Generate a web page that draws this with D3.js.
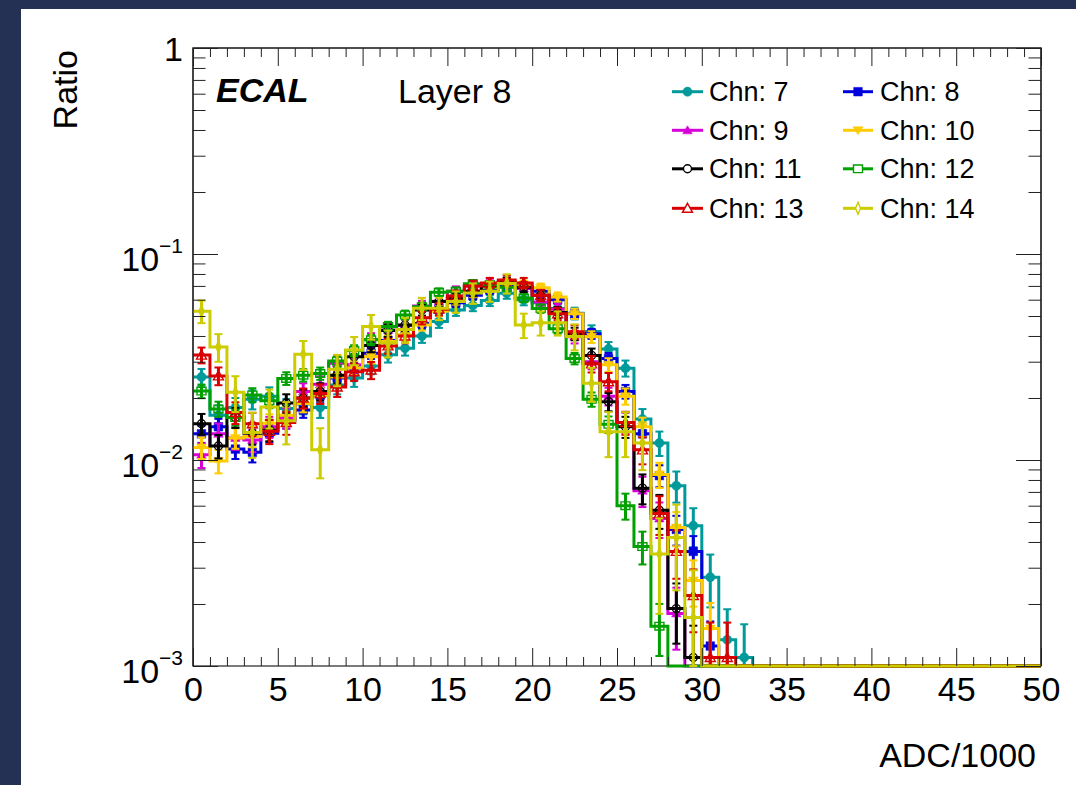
<!DOCTYPE html>
<html><head><meta charset="utf-8">
<script src="https://cdn.jsdelivr.net/npm/d3@7"></script>
<style>
body{margin:0;background:#fff}
svg{display:block}
text{font-family:"Liberation Sans",Arial,Helvetica,sans-serif}
</style>
</head><body>
<svg id="c" width="1076" height="785"></svg>
<script>
// ---------------- data ----------------
const xRange = [0, 50];
const yRange = [1e-3, 1];
const binLowEdges = d3.range(0, 50, 1); // 50 bins of width 1 (ADC/1000)
const xTickLabels = ["0","5","10","15","20","25","30","35","40","45","50"];
const yTickValues = [1e-3, 1e-2, 1e-1, 1];
const yTickBase = ["10","10","10","1"];
const yTickExp = ["\u22123","\u22122","\u22121",""];
const channels = ["Chn: 7","Chn: 8","Chn: 9","Chn: 10","Chn: 11","Chn: 12","Chn: 13","Chn: 14"];

const chn7  = [0.0253,0.0165,0.0180,0.0197,0.0204,0.0178,0.0187,0.0180,0.0231,0.0250,0.0286,0.0324,0.0349,0.0400,0.0470,0.0535,0.0563,0.0595,0.0644,0.0600,0.0580,0.0544,0.0515,0.0420,0.0346,0.0279,0.0158,0.0121,0.0075,0.0048,0.0027,0.00134,0.0011,0,0,0,0,0,0,0,0,0,0,0,0,0,0,0,0,0];
const chn8  = [0.0134,0.0145,0.0113,0.0109,0.0135,0.0156,0.0175,0.0206,0.0250,0.0280,0.0330,0.0380,0.0430,0.0460,0.0540,0.0580,0.0630,0.0670,0.0710,0.0700,0.0660,0.0600,0.0513,0.0410,0.0311,0.0215,0.0134,0.0084,0.0046,0.0036,0.00125,0,0,0,0,0,0,0,0,0,0,0,0,0,0,0,0,0,0,0];
const chn9  = [0.0106,0.0134,0.0128,0.0125,0.0145,0.0160,0.0215,0.0233,0.0295,0.0290,0.0385,0.0428,0.0450,0.0559,0.0590,0.0660,0.0700,0.0720,0.0730,0.0680,0.0585,0.0540,0.0396,0.0300,0.0204,0.0152,0.0071,0.0052,0.0018,0,0,0,0,0,0,0,0,0,0,0,0,0,0,0,0,0,0,0,0,0];
const chn10 = [0.0115,0.0099,0.0128,0.0130,0.0151,0.0165,0.0188,0.0206,0.0253,0.0280,0.0317,0.0376,0.0405,0.0452,0.0528,0.0600,0.0650,0.0690,0.0730,0.0710,0.0685,0.0619,0.0513,0.0396,0.0290,0.0204,0.0145,0.0085,0.0047,0.0026,0.00152,0,0,0,0,0,0,0,0,0,0,0,0,0,0,0,0,0,0,0];
const chn11 = [0.0150,0.0117,0.0161,0.0135,0.0140,0.0189,0.0200,0.0215,0.0258,0.0317,0.0360,0.0425,0.0452,0.0535,0.0588,0.0610,0.0660,0.0700,0.0730,0.0690,0.0630,0.0520,0.0410,0.0322,0.0192,0.0145,0.0073,0.0057,0.0019,0.0011,0,0,0,0,0,0,0,0,0,0,0,0,0,0,0,0,0,0,0,0];
const chn12 = [0.0216,0.0177,0.0161,0.0207,0.0194,0.0249,0.0258,0.0263,0.0302,0.0340,0.0383,0.0445,0.0506,0.0554,0.0652,0.0659,0.0717,0.0710,0.0690,0.0611,0.0544,0.0434,0.0311,0.0197,0.0149,0.0060,0.0038,0.00156,0,0,0,0,0,0,0,0,0,0,0,0,0,0,0,0,0,0,0,0,0,0];
const chn13 = [0.0323,0.0256,0.0170,0.0150,0.0138,0.0152,0.0200,0.0210,0.0226,0.0268,0.0273,0.0358,0.0400,0.0490,0.0540,0.0625,0.0700,0.0723,0.0747,0.0723,0.0630,0.0513,0.0419,0.0293,0.0240,0.0152,0.0112,0.0055,0.0036,0.0022,0.0011,0.0011,0,0,0,0,0,0,0,0,0,0,0,0,0,0,0,0,0,0];
const chn14 = [0.0528,0.0354,0.0213,0.0136,0.0181,0.0155,0.0326,0.0112,0.0276,0.0342,0.0445,0.0370,0.0430,0.0545,0.0545,0.0588,0.0646,0.0660,0.0720,0.0452,0.0464,0.0464,0.0398,0.0236,0.0137,0.0137,0.0121,0.0035,0.0042,0.00172,0,0,0,0,0,0,0,0,0,0,0,0,0,0,0,0,0,0,0,0];
// approximate number of entries per channel (sets the Poisson error bars)
const entries = [4500, 8000, 5000, 6000, 5000, 8000, 4000, 1200];

const seriesValues = [chn7, chn8, chn9, chn10, chn11, chn12, chn13, chn14];

// ---------------- styles ----------------
const colors  = ["#009a9a","#0000dd","#d800d8","#ffcc00","#000000","#00a000","#d80000","#cccc00"];
const markers = ["fullCircle","fullSquare","fullTriUp","fullTriDown","openCircle","openSquare","openTriUp","openDiamond"];

const W = 1076, H = 785;
const F = {l:193, r:1041, t:48, b:666};
const svg = d3.select("#c");

svg.append("rect").attr("width",W).attr("height",H).attr("fill","#243154");
svg.append("rect").attr("x",21).attr("y",9).attr("width",W-21).attr("height",H-9).attr("fill","#ffffff");

const x = d3.scaleLinear().domain(xRange).range([F.l, F.r]);
const y = d3.scaleLog().domain(yRange).range([F.b, F.t]).clamp(true);

// frame (drawn first, histograms may cover it like in ROOT)
svg.append("rect").attr("x",F.l).attr("y",F.t).attr("width",F.r-F.l).attr("height",F.b-F.t)
  .attr("fill","none").attr("stroke","#222").attr("stroke-width",1.2);

svg.append("clipPath").attr("id","frameClip").append("rect")
  .attr("x",F.l).attr("y",F.t-2).attr("width",F.r-F.l+2).attr("height",F.b-F.t+4);

function yOf(v){ return v > 0 ? y(Math.max(v, yRange[0])) : F.b; }

function markerPath(type, cx, cy){
  switch(type){
    case "fullCircle": case "openCircle": {
      const r = type==="fullCircle"?4.6:4;
      return `M${cx-r},${cy}a${r},${r} 0 1,0 ${2*r},0a${r},${r} 0 1,0 ${-2*r},0Z`;
    }
    case "fullSquare": return `M${cx-4.3},${cy-4.3}h8.6v8.6h-8.6Z`;
    case "openSquare": return `M${cx-4.5},${cy-3.8}h9v7.6h-9Z`;
    case "fullTriUp":  return `M${cx},${cy-4.5}L${cx+4.8},${cy+3.5}L${cx-4.8},${cy+3.5}Z`;
    case "fullTriDown":return `M${cx},${cy+4.5}L${cx+5},${cy-3.5}L${cx-5},${cy-3.5}Z`;
    case "openTriUp":  return `M${cx},${cy-5}L${cx+5},${cy+4}L${cx-5},${cy+4}Z`;
    case "openDiamond":return `M${cx},${cy-6}L${cx+2.5},${cy}L${cx},${cy+6}L${cx-2.5},${cy}Z`;
  }
}
function isOpen(t){ return t.startsWith("open"); }

const plot = svg.append("g").attr("clip-path","url(#frameClip)");

seriesValues.forEach((vals, si) => {
  const col = colors[si];
  const g = plot.append("g");
  // histogram outline
  let d = "";
  vals.forEach((v, i) => {
    const x0 = x(binLowEdges[i]), x1 = x(binLowEdges[i] + 1), yy = yOf(v);
    d += (i === 0 ? `M${x0},${yy}` : `V${yy}`) + `H${x1}`;
  });
  g.append("path").attr("d", d).attr("fill","none").attr("stroke",col)
    .attr("stroke-width",3).attr("stroke-linejoin","miter");
  // error bars (Poisson)
  vals.forEach((v, i) => {
    if (!(v > 0)) return;
    const cx = x(binLowEdges[i] + 0.5);
    const err = Math.sqrt(v / entries[si]);
    const yHi = y(v + err);
    const yLo = (v - err) > 0 ? y(v - err) : F.b + 10;
    g.append("line").attr("x1",cx).attr("x2",cx).attr("y1",yHi).attr("y2",yLo)
      .attr("stroke",col).attr("stroke-width",3);
    [yHi, yLo].forEach(yc => {
      g.append("line").attr("x1",cx-4).attr("x2",cx+4).attr("y1",yc).attr("y2",yc)
        .attr("stroke",col).attr("stroke-width",2);
    });
  });
  // markers
  vals.forEach((v, i) => {
    if (!(v > 0)) return;
    const cx = x(binLowEdges[i] + 0.5), cy = yOf(v);
    const t = markers[si];
    g.append("path").attr("d", markerPath(t, cx, cy))
      .attr("fill", isOpen(t) ? "none" : col)
      .attr("stroke", col).attr("stroke-width", isOpen(t) ? 1.4 : 0.5);
  });
});

// ---------------- axes ----------------
const axG = svg.append("g");
const majorX = d3.range(0, 51, 5), minorX = d3.range(0, 51, 1).filter(v => v % 5);

// bottom
const bottomMajor = d3.axisBottom(x).tickValues(majorX).tickSize(-18).tickPadding(11)
  .tickFormat((d,i) => xTickLabels[i]);
const bM = axG.append("g").attr("transform",`translate(0,${F.b})`).call(bottomMajor);
bM.selectAll("text").attr("font-size",34).attr("fill","#000").attr("font-family",'"Liberation Sans",Arial,sans-serif');
axG.append("g").attr("transform",`translate(0,${F.b})`)
  .call(d3.axisBottom(x).tickValues(minorX).tickSize(-9).tickFormat(""));
// top
axG.append("g").attr("transform",`translate(0,${F.t})`)
  .call(d3.axisTop(x).tickValues(majorX).tickSize(-18).tickFormat(""));
axG.append("g").attr("transform",`translate(0,${F.t})`)
  .call(d3.axisTop(x).tickValues(minorX).tickSize(-9).tickFormat(""));

// y ticks (log: decades + 2..9)
const minorY = [];
[1e-3,1e-2,1e-1].forEach(dec => { for (let k=2;k<=9;k++) minorY.push(dec*k); });
axG.append("g").attr("transform",`translate(${F.l},0)`)
  .call(d3.axisLeft(y).tickValues(yTickValues).tickSize(-25).tickFormat(""));
axG.append("g").attr("transform",`translate(${F.l},0)`)
  .call(d3.axisLeft(y).tickValues(minorY).tickSize(-12.5).tickFormat(""));
axG.append("g").attr("transform",`translate(${F.r},0)`)
  .call(d3.axisRight(y).tickValues(yTickValues).tickSize(-25).tickFormat(""));
axG.append("g").attr("transform",`translate(${F.r},0)`)
  .call(d3.axisRight(y).tickValues(minorY).tickSize(-12.5).tickFormat(""));

axG.selectAll(".domain").remove();
axG.selectAll(".tick line").attr("stroke","#222").attr("stroke-width",1);

// left / right / top frame edges redrawn on top (bottom stays under the histograms)
svg.append("path").attr("d",`M${F.l},${F.b}V${F.t}H${F.r}V${F.b}`)
  .attr("fill","none").attr("stroke","#222").attr("stroke-width",1.2);

// y tick labels with superscripts
yTickValues.forEach((v, i) => {
  const ty = y(v);
  const t = svg.append("text").attr("text-anchor","end").attr("x",183).attr("fill","#000");
  if (yTickExp[i] === "") {
    t.attr("y", ty + 13).attr("font-size",34).text(yTickBase[i]);
  } else {
    t.attr("y", ty + 17).attr("font-size",34);
    t.append("tspan").text(yTickBase[i]);
    t.append("tspan").attr("font-size",21).attr("dy",-18).text(yTickExp[i]);
  }
});

// axis titles
svg.append("text").attr("x",1036).attr("y",767).attr("text-anchor","end")
  .attr("font-size",34).attr("fill","#000").text("ADC/1000");
svg.append("text").attr("transform","translate(77,50) rotate(-90)").attr("text-anchor","end")
  .attr("font-size",34).attr("fill","#000").text("Ratio");

// labels in frame
svg.append("text").attr("x",216).attr("y",102).attr("font-size",34).attr("font-weight","bold")
  .attr("font-style","italic").attr("fill","#000").text("ECAL");
svg.append("text").attr("x",398).attr("y",103).attr("font-size",34).attr("fill","#000").text("Layer 8");

// legend
const legRows = [91.7, 130.3, 168.8, 208.3];
const legCols = [{l:672, r:703, t:709}, {l:843, r:873, t:880}];
channels.forEach((name, i) => {
  const row = Math.floor(i/2), c = legCols[i%2], ly = legRows[row];
  const g = svg.append("g");
  g.append("line").attr("x1",c.l).attr("x2",c.r).attr("y1",ly).attr("y2",ly)
    .attr("stroke",colors[i]).attr("stroke-width",3);
  const t = markers[i];
  g.append("path").attr("d", markerPath(t, (c.l+c.r)/2, ly))
    .attr("fill", isOpen(t) ? "#fff" : colors[i])
    .attr("stroke", colors[i]).attr("stroke-width", isOpen(t) ? 1.4 : 0.5);
  g.append("text").attr("x",c.t).attr("y",ly+9.5).attr("font-size",27).attr("fill","#000").text(name);
});
</script>
</body></html>
